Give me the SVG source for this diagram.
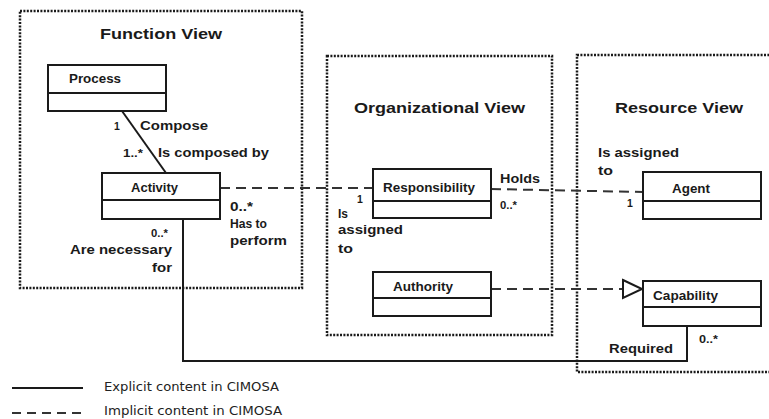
<svg xmlns="http://www.w3.org/2000/svg" width="769" height="419" viewBox="0 0 769 419">
<style>
.view{fill:none;stroke:#1a1a1a;stroke-width:2.5;stroke-dasharray:2 1.4}
.box{fill:#fff;stroke:#1a1a1a;stroke-width:2}
.t{font-family:"Liberation Sans",Arial,sans-serif;font-weight:bold;fill:#1a1a1a}
.title{font-size:15.5px}
.name{font-size:12px}
.lbl{font-size:13px}
.sm{font-size:10.5px}
.dash{fill:none;stroke:#333;stroke-width:2;stroke-dasharray:10 6}
.solid{fill:none;stroke:#1a1a1a;stroke-width:2}
.leg{font-family:"DejaVu Sans",Verdana,sans-serif;font-size:12.5px;fill:#222}
</style>
<rect width="769" height="419" fill="#fff"/>

<g id="function-view">
<rect class="view" x="20" y="11" width="282" height="277"/>
<text class="t title" x="100" y="39" textLength="122" lengthAdjust="spacingAndGlyphs">Function View</text>
</g>
<g id="organizational-view">
<rect class="view" x="327" y="56" width="225" height="279"/>
<text class="t title" x="354" y="113" textLength="171" lengthAdjust="spacingAndGlyphs">Organizational View</text>
</g>
<g id="resource-view">
<rect class="view" x="577" y="55" width="200" height="317"/>
<text class="t title" x="615" y="113" textLength="128" lengthAdjust="spacingAndGlyphs">Resource View</text>
</g>

<g id="connectors">
<line class="solid" x1="122" y1="111" x2="166" y2="173"/>
<polyline class="solid" points="183,219 183,361 687,361 687,326"/>
<line class="dash" x1="220" y1="188" x2="373" y2="188"/>
<line class="dash" x1="491" y1="189" x2="643" y2="192"/>
<line class="dash" x1="491" y1="289" x2="623" y2="289"/>
<polygon points="623,280 642,289 623,298" fill="#fff" stroke="#1a1a1a" stroke-width="2"/>
<text class="t sm" x="114" y="130">1</text>
<text class="t lbl" x="140" y="130" textLength="68" lengthAdjust="spacingAndGlyphs">Compose</text>
<text class="t sm" x="123" y="157" textLength="20" lengthAdjust="spacingAndGlyphs">1..*</text>
<text class="t lbl" x="158" y="157" textLength="111" lengthAdjust="spacingAndGlyphs">Is composed by</text>
<text class="t sm" x="151" y="237" textLength="17" lengthAdjust="spacingAndGlyphs">0..*</text>
<text class="t lbl" x="70" y="254" textLength="102" lengthAdjust="spacingAndGlyphs">Are necessary</text>
<text class="t lbl" x="152" y="272" textLength="20" lengthAdjust="spacingAndGlyphs">for</text>
<text class="t lbl" x="230" y="211" textLength="23" lengthAdjust="spacingAndGlyphs">0..*</text>
<text class="t lbl" x="230" y="228" textLength="37" lengthAdjust="spacingAndGlyphs">Has to</text>
<text class="t lbl" x="230" y="245" textLength="57" lengthAdjust="spacingAndGlyphs">perform</text>
<text class="t sm" x="357" y="203">1</text>
<text class="t lbl" x="338" y="218" textLength="10" lengthAdjust="spacingAndGlyphs">Is</text>
<text class="t lbl" x="338" y="234" textLength="65" lengthAdjust="spacingAndGlyphs">assigned</text>
<text class="t lbl" x="338" y="253" textLength="15" lengthAdjust="spacingAndGlyphs">to</text>
<text class="t lbl" x="500" y="183" textLength="40" lengthAdjust="spacingAndGlyphs">Holds</text>
<text class="t sm" x="500" y="209" textLength="17" lengthAdjust="spacingAndGlyphs">0..*</text>
<text class="t lbl" x="598" y="157" textLength="81" lengthAdjust="spacingAndGlyphs">Is assigned</text>
<text class="t lbl" x="598" y="175" textLength="15" lengthAdjust="spacingAndGlyphs">to</text>
<text class="t sm" x="627" y="207">1</text>
<text class="t sm" x="699" y="343" textLength="19" lengthAdjust="spacingAndGlyphs">0..*</text>
<text class="t lbl" x="609" y="353" textLength="64" lengthAdjust="spacingAndGlyphs">Required</text>
</g>

<g id="process">
<rect class="box" x="48" y="65" width="118" height="46"/>
<line class="solid" x1="48" y1="93" x2="166" y2="93"/>
<text class="t name" x="69" y="83" textLength="52" lengthAdjust="spacingAndGlyphs">Process</text>
</g>
<g id="activity">
<rect class="box" x="102" y="173" width="118" height="46"/>
<line class="solid" x1="102" y1="200" x2="220" y2="200"/>
<text class="t name" x="131" y="192" textLength="47" lengthAdjust="spacingAndGlyphs">Activity</text>
</g>
<g id="responsibility">
<rect class="box" x="373" y="169" width="118" height="49"/>
<line class="solid" x1="373" y1="201" x2="491" y2="201"/>
<text class="t name" x="383" y="192" textLength="92" lengthAdjust="spacingAndGlyphs">Responsibility</text>
</g>
<g id="authority">
<rect class="box" x="373" y="272" width="118" height="44"/>
<line class="solid" x1="373" y1="298" x2="491" y2="298"/>
<text class="t name" x="393" y="291" textLength="60" lengthAdjust="spacingAndGlyphs">Authority</text>
</g>
<g id="agent">
<rect class="box" x="643" y="172" width="118" height="47"/>
<line class="solid" x1="643" y1="201" x2="761" y2="201"/>
<text class="t name" x="672" y="193" textLength="38" lengthAdjust="spacingAndGlyphs">Agent</text>
</g>
<g id="capability">
<rect class="box" x="643" y="281" width="118" height="45"/>
<line class="solid" x1="643" y1="307" x2="761" y2="307"/>
<text class="t name" x="653" y="300" textLength="65" lengthAdjust="spacingAndGlyphs">Capability</text>
</g>

<g id="legend">
<line class="solid" x1="12" y1="388" x2="83" y2="388"/>
<text class="leg" x="104" y="391" textLength="175" lengthAdjust="spacingAndGlyphs">Explicit content in CIMOSA</text>
<line class="dash" x1="12" y1="413" x2="83" y2="413" style="stroke-dasharray:9 6"/>
<text class="leg" x="104" y="415" textLength="178" lengthAdjust="spacingAndGlyphs">Implicit content in CIMOSA</text>
</g>
</svg>
